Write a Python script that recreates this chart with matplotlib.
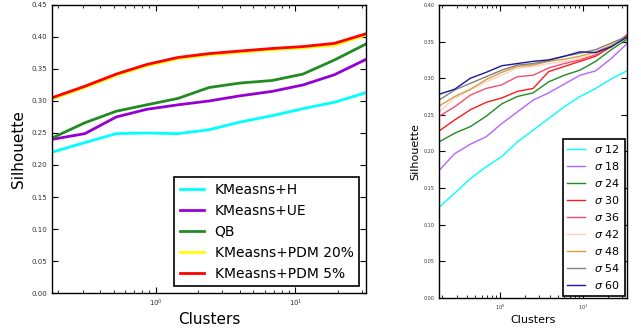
import matplotlib
matplotlib.use('Agg')
import matplotlib.pyplot as plt

# left panel: baselines vs PDM
clusters_left = [0.18, 0.31, 0.52, 0.86, 1.44, 2.4, 4.0, 6.8, 11.3, 19, 32]
kmeans_h = [0.220, 0.235, 0.249, 0.250, 0.249, 0.255, 0.267, 0.277, 0.288, 0.298, 0.313]
kmeans_ue = [0.240, 0.249, 0.275, 0.287, 0.294, 0.300, 0.308, 0.315, 0.325, 0.341, 0.365]
qb = [0.242, 0.266, 0.284, 0.294, 0.304, 0.321, 0.328, 0.332, 0.342, 0.364, 0.389]
pdm20 = [0.303, 0.321, 0.340, 0.355, 0.366, 0.372, 0.376, 0.380, 0.383, 0.387, 0.403]
pdm5 = [0.305, 0.323, 0.342, 0.357, 0.368, 0.374, 0.378, 0.382, 0.385, 0.390, 0.405]

# right panel: PDM for several sigma
clusters_right = [0.184, 0.284, 0.44, 0.68, 1.05, 1.62, 2.51, 3.87, 5.98, 9.25, 14.3, 22.1, 34.1]
sigma_labels = ['12', '18', '24', '30', '36', '42', '48', '54', '60']
sigma_curves = [
    [0.124, 0.143, 0.163, 0.179, 0.193, 0.213, 0.229, 0.245, 0.261, 0.275, 0.286, 0.299, 0.310],
    [0.174, 0.197, 0.210, 0.220, 0.238, 0.254, 0.270, 0.280, 0.292, 0.304, 0.310, 0.327, 0.347],
    [0.213, 0.225, 0.234, 0.248, 0.265, 0.275, 0.280, 0.295, 0.304, 0.311, 0.323, 0.339, 0.353],
    [0.228, 0.243, 0.257, 0.267, 0.273, 0.282, 0.286, 0.309, 0.316, 0.323, 0.330, 0.343, 0.359],
    [0.248, 0.261, 0.277, 0.286, 0.291, 0.302, 0.304, 0.314, 0.320, 0.325, 0.332, 0.343, 0.357],
    [0.254, 0.273, 0.284, 0.295, 0.304, 0.314, 0.316, 0.320, 0.323, 0.327, 0.334, 0.345, 0.356],
    [0.262, 0.275, 0.285, 0.298, 0.308, 0.316, 0.318, 0.323, 0.326, 0.330, 0.336, 0.345, 0.355],
    [0.270, 0.284, 0.293, 0.302, 0.311, 0.318, 0.320, 0.324, 0.330, 0.334, 0.339, 0.348, 0.357],
    [0.278, 0.285, 0.300, 0.308, 0.317, 0.320, 0.323, 0.325, 0.330, 0.336, 0.335, 0.343, 0.356],
]
sigma_colors = ['#00ffff', '#b266ff', '#228b22', '#ff1a1a', '#f0506e',
                '#ffd0c0', '#d4a040', '#808080', '#1a1a99']


def style_axes(ax, labelsize):
    ax.set_xscale('log')
    ax.tick_params(which='both', direction='in', top=True, right=True,
                   labelsize=labelsize, labelcolor='#333333')
    ax.tick_params(which='major', length=4)
    ax.tick_params(which='minor', length=2)
    for s in ax.spines.values():
        s.set_linewidth(1.0)


fig = plt.figure(figsize=(6.41, 3.30), dpi=100)

ax1 = fig.add_axes([0.081, 0.112, 0.490, 0.873])
ax1.plot(clusters_left, kmeans_h, color='#00ffff', lw=2, label='KMeasns+H')
ax1.plot(clusters_left, kmeans_ue, color='#9400d3', lw=2, label='KMeasns+UE')
ax1.plot(clusters_left, qb, color='#228b22', lw=2, label='QB')
ax1.plot(clusters_left, pdm20, color='#ffff00', lw=2, label='KMeasns+PDM 20%')
ax1.plot(clusters_left, pdm5, color='#ff0000', lw=2, label='KMeasns+PDM 5%')
style_axes(ax1, 5)
ax1.set_xlim(clusters_left[0], clusters_left[-1])
ax1.set_ylim(0.0, 0.45)
ax1.set_yticks([0.0, 0.05, 0.10, 0.15, 0.20, 0.25, 0.30, 0.35, 0.40, 0.45])
ax1.set_yticklabels(['%.2f' % v for v in ax1.get_yticks()])
ax1.set_xlabel('Clusters', fontsize=11, labelpad=2)
ax1.set_ylabel('Silhouette', fontsize=11, labelpad=4)
leg1 = ax1.legend(loc='lower right', fontsize=10, fancybox=False, framealpha=1,
                  handlelength=1.7, labelspacing=0.5, borderaxespad=0.5)
leg1.get_frame().set_edgecolor('black')
leg1.get_frame().set_linewidth(1.2)

ax2 = fig.add_axes([0.685, 0.097, 0.293, 0.888])
for lab, col, vals in zip(sigma_labels, sigma_colors, sigma_curves):
    ax2.plot(clusters_right, vals, color=col, lw=1, label=r'$\sigma$ ' + lab)
style_axes(ax2, 3.5)
ax2.set_xlim(clusters_right[0], clusters_right[-1])
ax2.set_ylim(0.0, 0.40)
ax2.set_yticks([0.0, 0.05, 0.10, 0.15, 0.20, 0.25, 0.30, 0.35, 0.40])
ax2.set_yticklabels(['%.2f' % v for v in ax2.get_yticks()])
ax2.set_xlabel('Clusters', fontsize=8, labelpad=2)
ax2.set_ylabel('Silhouette', fontsize=8, labelpad=2)
leg2 = ax2.legend(loc='lower right', fontsize=8, fancybox=False, framealpha=1,
                  handlelength=1.6, labelspacing=0.45, borderaxespad=0.2)
leg2.get_frame().set_edgecolor('black')
leg2.get_frame().set_linewidth(1.2)

fig.savefig('out.png', dpi=100)
